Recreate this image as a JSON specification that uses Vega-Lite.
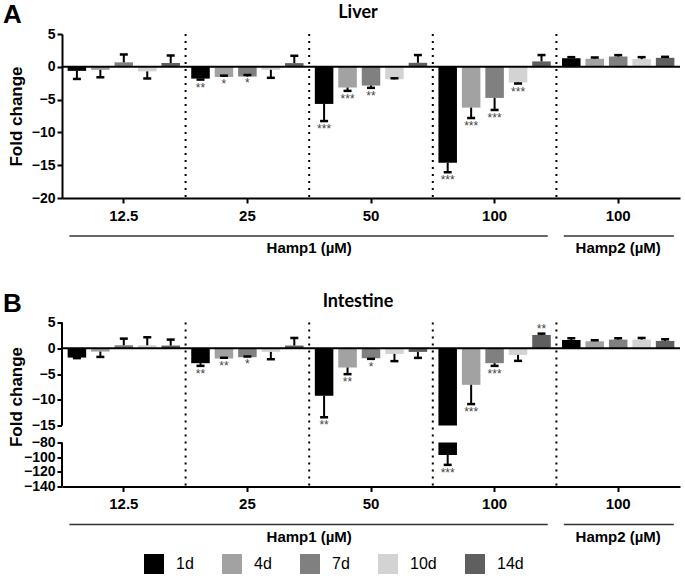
{
  "$schema": "https://vega.github.io/schema/vega-lite/v6.json",
  "padding": {"left": 2, "top": 2, "right": 0, "bottom": 0},
  "background": "white",
  "config": {
    "view": {"stroke": null},
    "font": "Liberation Sans",
    "axis": {"domainColor": "black", "domainWidth": 2, "tickColor": "black", "tickWidth": 2, "tickSize": 5, "labelColor": "black", "labelFont": "Liberation Sans", "labelFontWeight": "bold", "grid": false, "titleColor": "black", "titleFont": "Liberation Sans", "labelOverlap": false},
    "legend": {"orient": "none", "legendX": 82, "legendY": 520, "padding": 0, "direction": "horizontal", "symbolType": "square", "symbolSize": 400, "symbolStrokeWidth": 0, "labelFont": "Liberation Sans", "labelFontSize": 16, "labelColor": "black", "labelOffset": 12, "columnPadding": 28}
  },
  "datasets": {
    "liver": [
      {"grp": "12.5", "day": "1d", "value": -0.62, "err": -1.85, "sig": ""},
      {"grp": "12.5", "day": "4d", "value": -0.47, "err": -1.6, "sig": ""},
      {"grp": "12.5", "day": "7d", "value": 0.68, "err": 1.88, "sig": ""},
      {"grp": "12.5", "day": "10d", "value": -0.7, "err": -1.78, "sig": ""},
      {"grp": "12.5", "day": "14d", "value": 0.58, "err": 1.72, "sig": ""},
      {"grp": "25", "day": "1d", "value": -1.8, "err": -1.95, "sig": "**"},
      {"grp": "25", "day": "4d", "value": -1.55, "err": -1.35, "sig": "*"},
      {"grp": "25", "day": "7d", "value": -1.48, "err": -1.25, "sig": "*"},
      {"grp": "25", "day": "10d", "value": -0.46, "err": -1.68, "sig": ""},
      {"grp": "25", "day": "14d", "value": 0.56, "err": 1.68, "sig": ""},
      {"grp": "50", "day": "1d", "value": -5.66, "err": -8.27, "sig": "***"},
      {"grp": "50", "day": "4d", "value": -3.16, "err": -3.67, "sig": "***"},
      {"grp": "50", "day": "7d", "value": -2.86, "err": -3.21, "sig": "**"},
      {"grp": "50", "day": "10d", "value": -1.9, "err": -1.75, "sig": ""},
      {"grp": "50", "day": "14d", "value": 0.61, "err": 1.79, "sig": ""},
      {"grp": "100", "day": "1d", "value": -14.64, "err": -16.07, "sig": "***"},
      {"grp": "100", "day": "4d", "value": -6.22, "err": -7.81, "sig": "***"},
      {"grp": "100", "day": "7d", "value": -4.74, "err": -6.58, "sig": "***"},
      {"grp": "100", "day": "10d", "value": -2.4, "err": -2.55, "sig": "***"},
      {"grp": "100", "day": "14d", "value": 0.82, "err": 1.79, "sig": ""},
      {"grp": "100b", "day": "1d", "value": 1.32, "err": 1.47, "sig": ""},
      {"grp": "100b", "day": "4d", "value": 1.22, "err": 1.42, "sig": ""},
      {"grp": "100b", "day": "7d", "value": 1.57, "err": 1.78, "sig": ""},
      {"grp": "100b", "day": "10d", "value": 1.17, "err": 1.47, "sig": ""},
      {"grp": "100b", "day": "14d", "value": 1.37, "err": 1.52, "sig": ""}
    ],
    "intestine": [
      {"grp": "12.5", "day": "1d", "value": -1.81, "err": -1.92, "sig": ""},
      {"grp": "12.5", "day": "4d", "value": -0.65, "err": -1.68, "sig": ""},
      {"grp": "12.5", "day": "7d", "value": 0.58, "err": 1.87, "sig": ""},
      {"grp": "12.5", "day": "10d", "value": 0.58, "err": 2.13, "sig": ""},
      {"grp": "12.5", "day": "14d", "value": 0.52, "err": 1.68, "sig": ""},
      {"grp": "25", "day": "1d", "value": -2.9, "err": -3.42, "sig": "**"},
      {"grp": "25", "day": "4d", "value": -2.0, "err": -1.85, "sig": "**"},
      {"grp": "25", "day": "7d", "value": -1.74, "err": -1.6, "sig": "*"},
      {"grp": "25", "day": "10d", "value": -0.71, "err": -2.13, "sig": ""},
      {"grp": "25", "day": "14d", "value": 0.52, "err": 2.0, "sig": ""},
      {"grp": "50", "day": "1d", "value": -9.23, "err": -13.4, "sig": "**"},
      {"grp": "50", "day": "4d", "value": -3.74, "err": -5.03, "sig": "**"},
      {"grp": "50", "day": "7d", "value": -1.94, "err": -2.06, "sig": "*"},
      {"grp": "50", "day": "10d", "value": -1.1, "err": -2.5, "sig": ""},
      {"grp": "50", "day": "14d", "value": -0.71, "err": -1.87, "sig": ""},
      {"grp": "100", "day": "1d", "value": -97, "err": -110.5, "sig": "***"},
      {"grp": "100", "day": "4d", "value": -7.1, "err": -10.84, "sig": "***"},
      {"grp": "100", "day": "7d", "value": -2.9, "err": -3.42, "sig": "***"},
      {"grp": "100", "day": "10d", "value": -1.29, "err": -2.45, "sig": ""},
      {"grp": "100", "day": "14d", "value": 2.58, "err": 2.84, "sig": "**"},
      {"grp": "100b", "day": "1d", "value": 1.61, "err": 1.94, "sig": ""},
      {"grp": "100b", "day": "4d", "value": 1.35, "err": 1.55, "sig": ""},
      {"grp": "100b", "day": "7d", "value": 1.68, "err": 1.94, "sig": ""},
      {"grp": "100b", "day": "10d", "value": 1.68, "err": 2.0, "sig": ""},
      {"grp": "100b", "day": "14d", "value": 1.42, "err": 1.74, "sig": ""}
    ],
    "dividers": [{"grp": "25"}, {"grp": "50"}, {"grp": "100"}, {"grp": "100b"}],
    "baseline": [{"level": 0}],
    "gap": [{"top": -15, "bottom": -80}],
    "axisSegments": [{"grp": "12.5", "top": 5, "bottom": -15}, {"grp": "12.5", "top": -80, "bottom": -140}],
    "sections": [
      {"label": "Hamp1 (µM)", "start": 0.06, "end": 3.93, "mid": 2.0},
      {"label": "Hamp2 (µM)", "start": 4.06, "end": 4.95, "mid": 4.5}
    ]
  },
  "spacing": 34.5,
  "resolve": {"scale": {"color": "shared"}},
  "vconcat": [
    {
      "title": {"text": "A", "anchor": "start", "fontSize": 26, "fontWeight": "bold", "font": "Liberation Sans", "color": "black", "offset": -24, "dx": -4},
      "spacing": 0,
      "vconcat": [
        {
          "width": 618,
          "height": 164,
          "title": {"text": "Liver", "font": "Lato", "fontSize": 18, "fontWeight": "bold", "color": "black", "anchor": "middle", "dx": -13, "offset": 5},
          "layer": [
            {
              "data": {"name": "liver"},
              "mark": {"type": "bar"},
              "encoding": {
                "x": {"field": "grp", "type": "nominal", "sort": null, "scale": {"domain": ["12.5", "25", "50", "100", "100b"], "paddingInner": 0, "paddingOuter": 0}, "axis": {"title": null, "labelExpr": "replace(datum.label, 'b', '')", "labelFontSize": 15, "labelPadding": 5, "labelAngle": 0}},
                "xOffset": {"field": "day", "type": "nominal", "sort": null, "scale": {"domain": ["1d", "4d", "7d", "10d", "14d"], "paddingInner": 0.21, "paddingOuter": 0.24}},
                "y": {"field": "value", "type": "quantitative", "scale": {"domain": [-20, 5], "nice": false, "zero": false}, "axis": {"values": [5, 0, -5, -10, -15, -20], "tickCount": 30, "title": "Fold change", "titleFontSize": 17, "titleFontWeight": "bold", "titleX": -37, "labelFontSize": 14, "labelPadding": 2, "labelOverlap": false, "labelFlush": false}},
                "y2": {"datum": 0},
                "color": {"field": "day", "type": "nominal", "sort": null, "scale": {"domain": ["1d", "4d", "7d", "10d", "14d"], "range": ["#000000", "#a2a2a2", "#808080", "#d3d3d3", "#5f5f5f"]}, "legend": {"title": null}}
              }
            },
            {
              "data": {"name": "baseline"},
              "mark": {"type": "rule", "color": "black", "strokeWidth": 2},
              "encoding": {"y": {"field": "level", "type": "quantitative"}}
            },
            {
              "data": {"name": "dividers"},
              "mark": {"type": "rule", "color": "black", "strokeWidth": 2, "strokeDash": [2, 5]},
              "encoding": {"x": {"field": "grp", "type": "nominal", "bandPosition": 0}}
            },
            {
              "data": {"name": "liver"},
              "mark": {"type": "rule", "color": "black", "strokeWidth": 2},
              "encoding": {
                "x": {"field": "grp", "type": "nominal"},
                "xOffset": {"field": "day", "type": "nominal"},
                "y": {"field": "value", "type": "quantitative"},
                "y2": {"field": "err"}
              }
            },
            {
              "data": {"name": "liver"},
              "mark": {"type": "tick", "color": "black", "thickness": 2.5, "size": 8, "opacity": 1},
              "encoding": {
                "x": {"field": "grp", "type": "nominal"},
                "xOffset": {"field": "day", "type": "nominal"},
                "y": {"field": "err", "type": "quantitative"}
              }
            },
            {
              "data": {"name": "liver"},
              "transform": [{"filter": "datum.err < 0"}],
              "mark": {"type": "text", "baseline": "top", "dy": 3, "fontSize": 12, "color": "#444"},
              "encoding": {
                "x": {"field": "grp", "type": "nominal"},
                "xOffset": {"field": "day", "type": "nominal"},
                "y": {"field": "err", "type": "quantitative"},
                "text": {"field": "sig"}
              }
            },
            {
              "data": {"name": "liver"},
              "transform": [{"filter": "datum.err > 0"}],
              "mark": {"type": "text", "baseline": "alphabetic", "dy": -1, "fontSize": 12, "color": "#444"},
              "encoding": {
                "x": {"field": "grp", "type": "nominal"},
                "xOffset": {"field": "day", "type": "nominal"},
                "y": {"field": "err", "type": "quantitative"},
                "text": {"field": "sig"}
              }
            }
          ]
        },
        {
          "width": 618,
          "height": 26,
          "data": {"name": "sections"},
          "layer": [
            {
              "mark": {"type": "rule", "strokeWidth": 1.5, "color": "#333"},
              "encoding": {
                "x": {"field": "start", "type": "quantitative", "scale": {"domain": [0, 5], "nice": false, "zero": false}, "axis": null},
                "x2": {"field": "end"}
              }
            },
            {
              "mark": {"type": "text", "dy": 12, "baseline": "middle", "fontSize": 15, "font": "Liberation Sans", "fontWeight": "bold", "color": "black"},
              "encoding": {
                "x": {"field": "mid", "type": "quantitative"},
                "text": {"field": "label"}
              }
            }
          ]
        }
      ]
    },
    {
      "title": {"text": "B", "anchor": "start", "fontSize": 26, "fontWeight": "bold", "font": "Liberation Sans", "color": "black", "offset": -24, "dx": -4},
      "spacing": 0,
      "vconcat": [
        {
          "width": 618,
          "height": 164,
          "title": {"text": "Intestine", "font": "Lato", "fontSize": 18, "fontWeight": "bold", "color": "black", "anchor": "middle", "dx": -13, "offset": 5},
          "layer": [
            {
              "data": {"name": "intestine"},
              "mark": {"type": "bar"},
              "encoding": {
                "x": {"field": "grp", "type": "nominal", "sort": null, "scale": {"domain": ["12.5", "25", "50", "100", "100b"], "paddingInner": 0, "paddingOuter": 0}, "axis": {"title": null, "labelExpr": "replace(datum.label, 'b', '')", "labelFontSize": 15, "labelPadding": 5, "labelAngle": 0}},
                "xOffset": {"field": "day", "type": "nominal", "sort": null, "scale": {"domain": ["1d", "4d", "7d", "10d", "14d"], "paddingInner": 0.21, "paddingOuter": 0.24}},
                "y": {"field": "value", "type": "quantitative", "scale": {"type": "linear", "domain": [-140, -80, -15, 5], "range": [164, 120, 103, 0], "nice": false, "zero": false}, "axis": {"values": [5, 0, -5, -10, -15, -80, -100, -120, -140], "tickCount": 30, "domain": false, "title": "Fold change", "titleFontSize": 17, "titleFontWeight": "bold", "titleX": -37, "titleY": 74, "labelFontSize": 14, "labelPadding": 2, "labelOverlap": false, "labelFlush": false}},
                "y2": {"datum": 0},
                "color": {"field": "day", "type": "nominal", "sort": null, "scale": {"domain": ["1d", "4d", "7d", "10d", "14d"], "range": ["#000000", "#a2a2a2", "#808080", "#d3d3d3", "#5f5f5f"]}, "legend": {"title": null}}
              }
            },
            {
              "data": {"name": "gap"},
              "mark": {"type": "rect", "color": "white", "opacity": 1},
              "encoding": {"y": {"field": "top", "type": "quantitative"}, "y2": {"field": "bottom"}}
            },
            {
              "data": {"name": "baseline"},
              "mark": {"type": "rule", "color": "black", "strokeWidth": 2},
              "encoding": {"y": {"field": "level", "type": "quantitative"}}
            },
            {
              "data": {"name": "dividers"},
              "mark": {"type": "rule", "color": "black", "strokeWidth": 2, "strokeDash": [2, 5]},
              "encoding": {"x": {"field": "grp", "type": "nominal", "bandPosition": 0}}
            },
            {
              "data": {"name": "axisSegments"},
              "mark": {"type": "rule", "color": "black", "strokeWidth": 2},
              "encoding": {"x": {"field": "grp", "type": "nominal", "bandPosition": 0}, "y": {"field": "top", "type": "quantitative"}, "y2": {"field": "bottom"}}
            },
            {
              "data": {"name": "intestine"},
              "mark": {"type": "rule", "color": "black", "strokeWidth": 2},
              "encoding": {
                "x": {"field": "grp", "type": "nominal"},
                "xOffset": {"field": "day", "type": "nominal"},
                "y": {"field": "value", "type": "quantitative"},
                "y2": {"field": "err"}
              }
            },
            {
              "data": {"name": "intestine"},
              "mark": {"type": "tick", "color": "black", "thickness": 2.5, "size": 8, "opacity": 1},
              "encoding": {
                "x": {"field": "grp", "type": "nominal"},
                "xOffset": {"field": "day", "type": "nominal"},
                "y": {"field": "err", "type": "quantitative"}
              }
            },
            {
              "data": {"name": "intestine"},
              "transform": [{"filter": "datum.err < 0"}],
              "mark": {"type": "text", "baseline": "top", "dy": 3, "fontSize": 12, "color": "#444"},
              "encoding": {
                "x": {"field": "grp", "type": "nominal"},
                "xOffset": {"field": "day", "type": "nominal"},
                "y": {"field": "err", "type": "quantitative"},
                "text": {"field": "sig"}
              }
            },
            {
              "data": {"name": "intestine"},
              "transform": [{"filter": "datum.err > 0"}],
              "mark": {"type": "text", "baseline": "alphabetic", "dy": -1, "fontSize": 12, "color": "#444"},
              "encoding": {
                "x": {"field": "grp", "type": "nominal"},
                "xOffset": {"field": "day", "type": "nominal"},
                "y": {"field": "err", "type": "quantitative"},
                "text": {"field": "sig"}
              }
            }
          ]
        },
        {
          "width": 618,
          "height": 26,
          "data": {"name": "sections"},
          "layer": [
            {
              "mark": {"type": "rule", "strokeWidth": 1.5, "color": "#333"},
              "encoding": {
                "x": {"field": "start", "type": "quantitative", "scale": {"domain": [0, 5], "nice": false, "zero": false}, "axis": null},
                "x2": {"field": "end"}
              }
            },
            {
              "mark": {"type": "text", "dy": 12, "baseline": "middle", "fontSize": 15, "font": "Liberation Sans", "fontWeight": "bold", "color": "black"},
              "encoding": {
                "x": {"field": "mid", "type": "quantitative"},
                "text": {"field": "label"}
              }
            }
          ]
        }
      ]
    }
  ]
}
